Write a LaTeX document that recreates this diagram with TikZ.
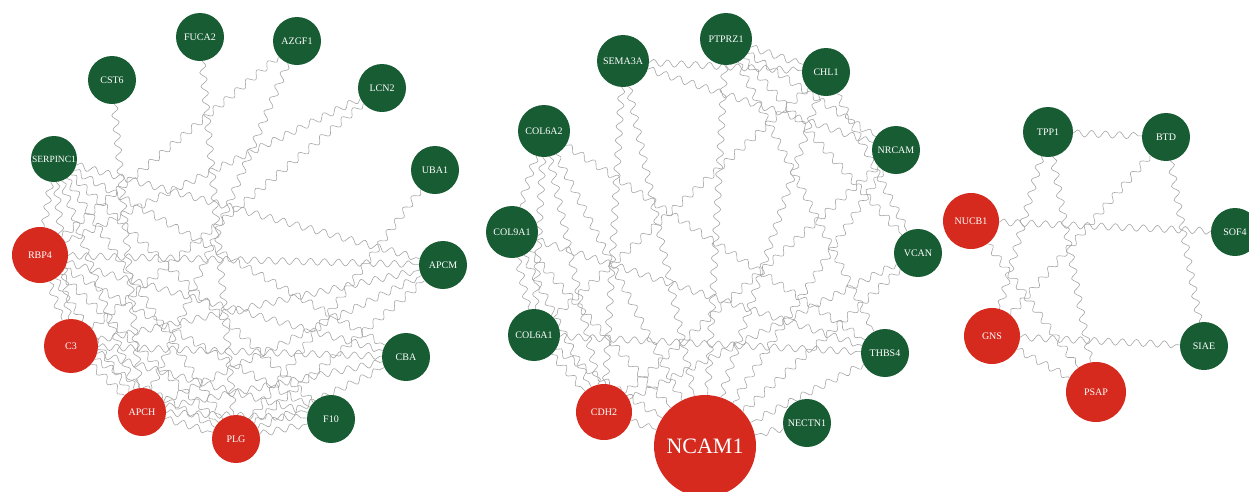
\documentclass[tikz,border=0pt]{standalone}
\usepackage{fontspec}
\setmainfont{Liberation Serif}
\usepackage{tikz}
\usetikzlibrary{decorations.pathmorphing}
\pgfdeclarelayer{bg}
\pgfsetlayers{bg,main}

\definecolor{hubred}{RGB}{214,42,30}
\definecolor{gengreen}{RGB}{24,92,52}

\tikzset{
  gene/.style={circle,fill=gengreen,text=white,inner sep=0pt,minimum size=48pt,font=\fontsize{10}{10}\selectfont},
  hub/.style={gene,fill=hubred},
  link/.style={draw=black!35,line width=0.6pt,decorate,decoration={snake,amplitude=3.4pt,segment length=14pt}}
}

\begin{document}
\begin{tikzpicture}[x=1pt,y=-1pt]
\useasboundingbox (0,0) rectangle (1249,491);

% linkes Netz
\node[gene] (fuca) at (200,37) {FUCA2};
\node[gene] (azgf) at (297,41) {AZGF1};
\node[gene] (cst) at (112,80) {CST6};
\node[gene] (lcn) at (382,88) {LCN2};
\node[gene,minimum size=46pt,font=\fontsize{9.5}{9.5}\selectfont] (serp) at (54,159) {SERPINC1};
\node[gene] (uba) at (435,170) {UBA1};
\node[hub,minimum size=56pt] (rbp) at (40,255) {RBP4};
\node[gene] (apcm) at (443,265) {APCM};
\node[hub,minimum size=54pt] (cthree) at (71,346) {C3};
\node[gene] (cba) at (406,357) {CBA};
\node[hub] (apch) at (142,412) {APCH};
\node[gene] (ften) at (331,419) {F10};
\node[hub] (plg) at (236,439) {PLG};

% mittleres Netz
\node[gene,minimum size=52pt] (ptp) at (726,39) {PTPRZ1};
\node[gene,minimum size=52pt] (sema) at (623,61) {SEMA3A};
\node[gene] (chl) at (826,72) {CHL1};
\node[gene,minimum size=52pt] (colb) at (544,131) {COL6A2};
\node[gene] (nrcam) at (896,150) {NRCAM};
\node[gene,minimum size=52pt] (colc) at (512,232) {COL9A1};
\node[gene] (vcan) at (918,253) {VCAN};
\node[gene,minimum size=52pt] (cola) at (534,335) {COL6A1};
\node[gene] (thbs) at (885,353) {THBS4};
\node[hub,minimum size=56pt] (cdh) at (604,412) {CDH2};
\node[hub,minimum size=102pt,font=\fontsize{22}{22}\selectfont] (ncam) at (705,446) {NCAM1};
\node[gene] (nectn) at (807,423) {NECTN1};

% rechtes Netz
\node[gene,minimum size=50pt] (tpp) at (1048,132) {TPP1};
\node[gene] (btd) at (1166,137) {BTD};
\node[hub,minimum size=56pt] (nucb) at (971,221) {NUCB1};
\node[gene] (sof) at (1235,232) {SOF4};
\node[hub,minimum size=56pt] (gns) at (992,336) {GNS};
\node[gene] (siae) at (1204,346) {SIAE};
\node[hub,minimum size=60pt] (psap) at (1096,392) {PSAP};

\begin{pgfonlayer}{bg}
% Kanten links
\foreach \a/\b in {fuca/plg,cst/apch,azgf/rbp,azgf/apch,lcn/rbp,lcn/cthree,uba/plg,
  serp/apcm,serp/cba,serp/ften,serp/plg,serp/apch,serp/cthree,serp/rbp,
  rbp/apcm,rbp/cba,rbp/ften,rbp/plg,rbp/apch,rbp/cthree,
  cthree/apcm,cthree/cba,cthree/ften,cthree/plg,cthree/apch,
  apch/apcm,apch/cba,apch/ften,apch/plg,plg/apcm,plg/cba,plg/ften}
  \draw[link] (\a) -- (\b);
% Kanten Mitte
\foreach \a/\b in {sema/chl,sema/nrcam,sema/ncam,sema/cdh,ptp/chl,ptp/nrcam,ptp/vcan,ptp/ncam,ptp/thbs,
  chl/ncam,chl/vcan,chl/cola,colb/colc,colb/cola,colb/ncam,colb/thbs,colb/cdh,
  colc/cola,colc/ncam,colc/thbs,colc/cdh,nrcam/ncam,nrcam/cdh,vcan/ncam,vcan/cdh,
  cola/ncam,cola/cdh,cola/thbs,thbs/ncam,cdh/ncam,nectn/ncam}
  \draw[link] (\a) -- (\b);
% Kanten rechts
\foreach \a/\b in {tpp/btd,tpp/gns,tpp/psap,btd/gns,btd/siae,nucb/sof,nucb/psap,gns/siae,gns/psap}
  \draw[link] (\a) -- (\b);
\end{pgfonlayer}

\end{tikzpicture}
\end{document}
